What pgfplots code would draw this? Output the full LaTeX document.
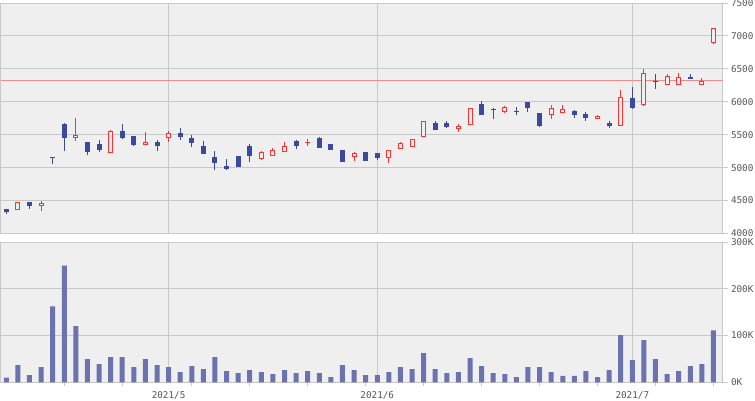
\documentclass[border=0pt]{standalone}
\usepackage{fontspec}
\setmainfont{DejaVu Sans Mono}
\usepackage{pgfplots}
\usepackage{pgfplotstable}
\pgfplotsset{compat=1.18}
\definecolor{cBlue}{HTML}{3C4A9E}
\definecolor{cRed}{HTML}{FF3333}
\definecolor{cVol}{HTML}{6B72B0}
\definecolor{cGrid}{HTML}{C8C8C8}
\definecolor{cBg}{HTML}{EFEFEF}
\definecolor{cTxt}{HTML}{555555}
\definecolor{cRef}{HTML}{F28A8A}

% red (up) candles: index open high low close
\pgfplotstableread{
i o h l c
1 4354 4476 4354 4476
3 4415 4491 4348 4460
6 5455 5753 5409 5495
9 5227 5571 5227 5551
12 5340 5541 5340 5385
14 5445 5551 5394 5521
22 5136 5253 5121 5238
23 5182 5298 5182 5268
24 5242 5389 5242 5329
26 5389 5430 5333 5389
30 5167 5238 5106 5218
33 5142 5264 5076 5264
34 5279 5394 5279 5374
35 5309 5430 5309 5430
36 5461 5703 5461 5703
39 5582 5662 5545 5632
40 5642 5905 5642 5905
43 5848 5935 5829 5915
47 5794 5950 5742 5900
48 5833 5950 5833 5885
51 5733 5798 5733 5779
53 5636 6186 5636 6076
55 5955 6500 5933 6439
57 6258 6424 6258 6388
58 6258 6444 6258 6373
60 6258 6368 6258 6318
61 6900 7127 6870 7127
}\upT

% blue (down) candles: index open high low close
\pgfplotstableread{
i o h l c
0 4375 4375 4303 4320
2 4480 4480 4379 4425
4 5157 5157 5060 5157
5 5662 5677 5253 5455
7 5389 5389 5197 5242
8 5359 5420 5238 5268
10 5556 5662 5439 5455
11 5480 5480 5333 5348
13 5389 5420 5258 5333
15 5526 5601 5424 5470
16 5450 5495 5318 5379
17 5329 5405 5212 5212
18 5162 5253 4970 5076
19 5026 5132 4970 4985
20 5177 5177 5015 5015
21 5329 5359 5091 5182
25 5405 5420 5283 5333
27 5450 5465 5303 5303
28 5359 5359 5273 5273
29 5268 5268 5091 5091
31 5238 5238 5106 5106
32 5223 5223 5121 5151
37 5677 5708 5576 5576
38 5677 5708 5606 5621
41 5965 6011 5803 5803
42 5889 5905 5738 5889
44 5855 5920 5803 5855
45 5995 5995 5848 5909
46 5829 5829 5621 5636
49 5855 5870 5758 5803
50 5814 5844 5712 5758
52 5671 5701 5600 5630
54 6050 6217 5894 5903
56 6308 6429 6191 6308
59 6383 6429 6348 6348
}\dnT

% volume in thousands
\pgfplotstableread{
i v
0 9.9
1 36.9
2 15.6
3 32.6
4 162.4
5 249.6
6 119.9
7 49.6
8 39.0
9 53.9
10 53.9
11 32.6
12 49.6
13 36.9
14 32.6
15 22.0
16 34.8
17 28.4
18 53.9
19 24.1
20 19.9
21 26.2
22 22.0
23 17.7
24 26.2
25 19.9
26 24.1
27 19.9
28 11.3
29 36.9
30 26.2
31 15.6
32 15.6
33 22.0
34 32.6
35 28.4
36 62.4
37 28.4
38 19.9
39 22.0
40 51.8
41 34.8
42 19.9
43 17.7
44 11.3
45 32.6
46 32.6
47 22.0
48 13.5
49 13.5
50 24.1
51 11.3
52 26.2
53 100.7
54 47.5
55 90.1
56 49.6
57 17.7
58 24.1
59 34.8
60 39.0
61 111.3
}\volT

\pgfplotsset{
  base/.style={
    scale only axis, width=721.8pt,
    xmin=-0.483, xmax=61.78,
    axis background/.style={fill=cBg},
    axis line style={draw=cGrid, line width=1pt},
    grid style={draw=cGrid, line width=1pt},
    xmajorgrids, ymajorgrids,
    xtick={14,32,54},
    xtick pos=bottom,
    ytick pos=right,
    yticklabel pos=right,
    tick align=outside,
    major tick length=5pt,
    minor tick length=4pt,
    major x tick style={draw=none},
    ytick style={draw=cGrid, line width=1pt},
    tick label style={font=\fontsize{9.3}{10}\selectfont, text=cTxt},
    yticklabel style={anchor=west},
  },
  bars2/.style 2 args={draw=none, mark=none, forget plot,
    error bars/.cd, y dir=both, y explicit, error mark=none,
    error bar style={line width=#1, draw=#2}},
}

\begin{document}
\begin{tikzpicture}[x=1pt,y=1pt]
\path[use as bounding box] (0,0) rectangle (755,-400);

% ---------------- price panel ----------------
\begin{axis}[base, at={(0.7pt,-3pt)}, anchor=north west, height=230.5pt,
  ymin=4000, ymax=7500, ytick={4000,4500,...,7500},
  yticklabels={4000,4500,5000,5500,6000,6500,7000,7500},
  xticklabels={}]
% reference line
\addplot[cRef, line width=1pt, forget plot] coordinates {(-1,6320) (63,6320)};
% wicks
\addplot[bars2={1pt}{cBlue}] table[x=i, y=o,
  y error plus expr=\thisrow{h}-\thisrow{o},
  y error minus expr=\thisrow{o}-\thisrow{l}] {\dnT};
\addplot[bars2={1pt}{cRed}] table[x=i, y=o,
  y error plus expr=\thisrow{h}-\thisrow{o},
  y error minus expr=\thisrow{o}-\thisrow{l}] {\upT};
% filled blue bodies
\addplot[bars2={5pt}{cBlue}] table[x=i, y=c,
  y error plus expr=\thisrow{o}-\thisrow{c},
  y error minus expr=0] {\dnT};
% hollow red bodies
\addplot[bars2={5pt}{cRed}] table[x=i, y=o,
  y error plus expr=\thisrow{c}-\thisrow{o},
  y error minus expr=0] {\upT};
\addplot[bars2={3pt}{cBg}] table[x=i,
  y expr=\thisrow{o}+15,
  y error plus expr={max(\thisrow{c}-\thisrow{o}-30,0)},
  y error minus expr=0] {\upT};
% doji crosses
\addplot[only marks, mark=-, mark size=2.5pt, forget plot,
  mark options={draw=cBlue, line width=1pt}]
  coordinates {(4,5157) (42,5889) (44,5855) (56,6308)};
\addplot[only marks, mark=-, mark size=2.5pt, forget plot,
  mark options={draw=cRed, line width=1pt}]
  coordinates {(26,5389)};
\end{axis}

% ---------------- volume panel ----------------
\begin{axis}[base, at={(0.7pt,-242pt)}, anchor=north west, height=140.3pt,
  ymin=0, ymax=300, ytick={0,100,200,300},
  yticklabels={0K,100K,200K,300K},
  xticklabels={2021/5,2021/6,2021/7},
  minor xtick={5,10,16,21,26,31,36,41,46,51,56,61},
  minor x tick style={draw=cGrid, line width=1pt},
  xticklabel style={yshift=-1pt}]
\addplot[ybar, bar width=5pt, fill=cVol, draw=none] table[x=i, y=v] {\volT};
\end{axis}
\end{tikzpicture}
\end{document}
